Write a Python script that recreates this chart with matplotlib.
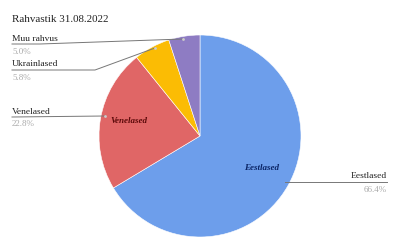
import matplotlib.pyplot as plt

# data
labels = ['Eestlased', 'Venelased', 'Ukrainlased', 'Muu rahvus']
shares = [66.4, 22.8, 5.8, 5.0]
colors = ['#6d9eeb', '#e06666', '#fbbc04', '#8e7cc3']
pct_labels = ['66.4%', '22.8%', '5.8%', '5.0%']

H = 248

def Y(y):
    # pixel row -> data y
    return H - y

plt.rcParams['font.family'] = ['Liberation Serif', 'DejaVu Serif']

fig = plt.figure(figsize=(4, 2.48), dpi=100)
ax = fig.add_axes([0, 0, 1, 1])

ax.pie(shares, colors=colors, startangle=90, counterclock=False,
       center=(200, Y(136)), radius=101, frame=True,
       wedgeprops=dict(edgecolor='white', linewidth=0.4))
ax.set_xlim(0, 400)
ax.set_ylim(0, H)
ax.set_aspect('equal')
ax.axis('off')

ax.text(12, Y(22.5), 'Rahvastik 31.08.2022', fontsize=7.9, va='baseline', ha='left', color='#222222')

# inside labels
ax.text(262, Y(168), labels[0], fontsize=6.5, style='italic', weight='bold',
        color='#0b2566', ha='center', va='center')
ax.text(129, Y(121), labels[1], fontsize=6.5, style='italic', weight='bold',
        color='#5c0a0a', ha='center', va='center')

lc = '#777777'
lw = 0.7
lab_kw = dict(fontsize=6.8, color='#222222', va='baseline')
pct_kw = dict(fontsize=6.5, color='#aaaaaa', va='baseline')
dot_kw = dict(marker='o', ms=2, color='#cccccc', mec='none')

# Eestlased
ax.plot([285, 387], [Y(182), Y(182)], color=lc, lw=lw)
ax.text(387, Y(178), labels[0], ha='right', **lab_kw)
ax.text(387, Y(191.5), pct_labels[0], ha='right', **pct_kw)

# Venelased
ax.plot([12, 105], [Y(117), Y(116)], color=lc, lw=lw)
ax.plot([105], [Y(116)], **dot_kw)
ax.text(12, Y(113.5), labels[1], ha='left', **lab_kw)
ax.text(12, Y(126), pct_labels[1], ha='left', **pct_kw)

# Ukrainlased
ax.plot([12, 95, 155], [Y(70), Y(70), Y(48)], color=lc, lw=lw)
ax.plot([155], [Y(48)], **dot_kw)
ax.text(12, Y(66.5), labels[2], ha='left', **lab_kw)
ax.text(12, Y(79.5), pct_labels[2], ha='left', **pct_kw)

# Muu rahvus
ax.plot([12, 40, 183], [Y(44), Y(44), Y(39)], color=lc, lw=lw)
ax.plot([183], [Y(39)], **dot_kw)
ax.text(12, Y(41), labels[3], ha='left', **lab_kw)
ax.text(12, Y(54), pct_labels[3], ha='left', **pct_kw)

fig.savefig('out.png', dpi=100, facecolor='white')
